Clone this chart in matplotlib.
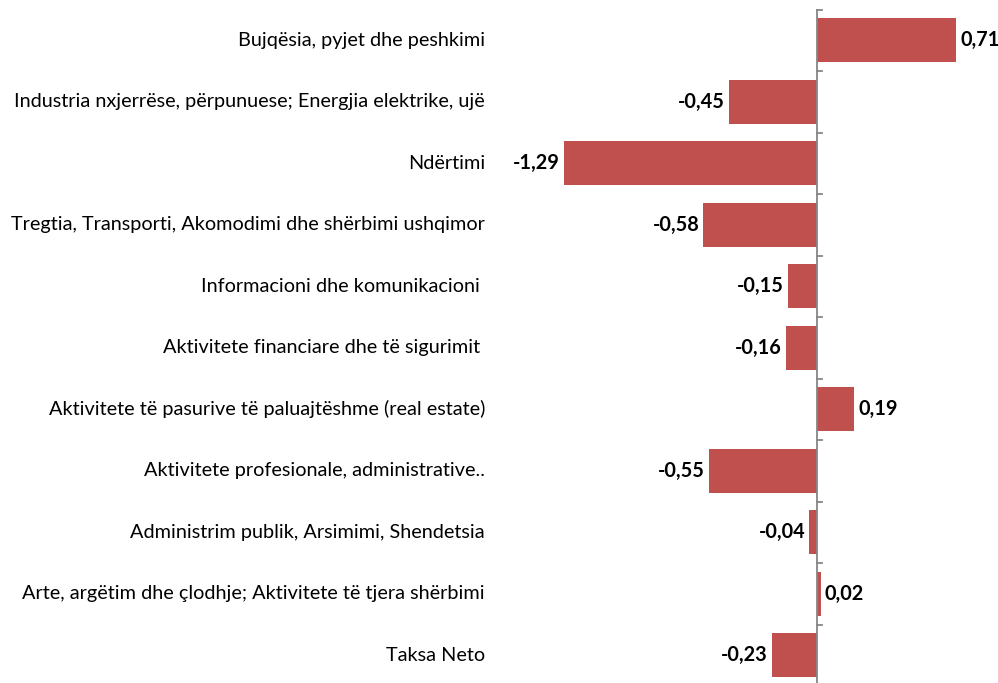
import matplotlib
matplotlib.use("Agg")
import matplotlib.pyplot as plt
import matplotlib.transforms as mtransforms

categories = [
    "Bujqësia, pyjet dhe peshkimi",
    "Industria nxjerrëse, përpunuese; Energjia elektrike, ujë",
    "Ndërtimi",
    "Tregtia, Transporti, Akomodimi dhe shërbimi ushqimor",
    "Informacioni dhe komunikacioni ",
    "Aktivitete financiare dhe të sigurimit ",
    "Aktivitete të pasurive të paluajtëshme (real estate)",
    "Aktivitete profesionale, administrative..",
    "Administrim publik, Arsimimi, Shendetsia",
    "Arte, argëtim dhe çlodhje; Aktivitete të tjera shërbimi",
    "Taksa Neto",
]
values = [0.71, -0.45, -1.29, -0.58, -0.15, -0.16, 0.19, -0.55, -0.04, 0.02, -0.23]

plt.rcParams['font.family'] = ['Lato', 'DejaVu Sans']

W, H = 998, 683
fig = plt.figure(figsize=(W/100, H/100), dpi=100)
left_px, right_px, top_px, bot_px = 500, 990, 9.5, 686
ax = fig.add_axes([left_px/W, 1 - bot_px/H, (right_px-left_px)/W, (bot_px-top_px)/H])

zero_px = 817
scale = 196.0
ax.set_xlim(-(zero_px-left_px)/scale, (right_px-zero_px)/scale)
n = len(categories)
ax.set_ylim(n - 0.5, -0.5)

color = "#C0504D"
ypos = list(range(n))
ax.barh(ypos, values, height=0.71, color=color, zorder=2)

for s in ax.spines.values():
    s.set_visible(False)
ax.set_xticks([])
ax.set_yticks([])
ax.axvline(0, color="#868686", lw=1.3, zorder=3, clip_on=False)
# tick marks at category boundaries
for b in [i - 0.5 for i in range(n + 1)]:
    ax.plot([0, 5/scale], [b, b], color="#868686", lw=1.3, zorder=3, clip_on=False)

trans = mtransforms.blended_transform_factory(fig.transFigure, ax.transData)
for y, c in zip(ypos, categories):
    ax.text(485/W, y, c, transform=trans, ha="right", va="center", fontsize=14.3, color="black")

off = 4/scale
for y, v in zip(ypos, values):
    lab = f"{v:.2f}".replace(".", ",")
    if v >= 0:
        ax.text(v + off, y, lab, ha="left", va="center", fontsize=14.3, fontweight="bold")
    else:
        ax.text(v - off, y, lab, ha="right", va="center", fontsize=14.3, fontweight="bold")

fig.savefig("out.png", dpi=100)
